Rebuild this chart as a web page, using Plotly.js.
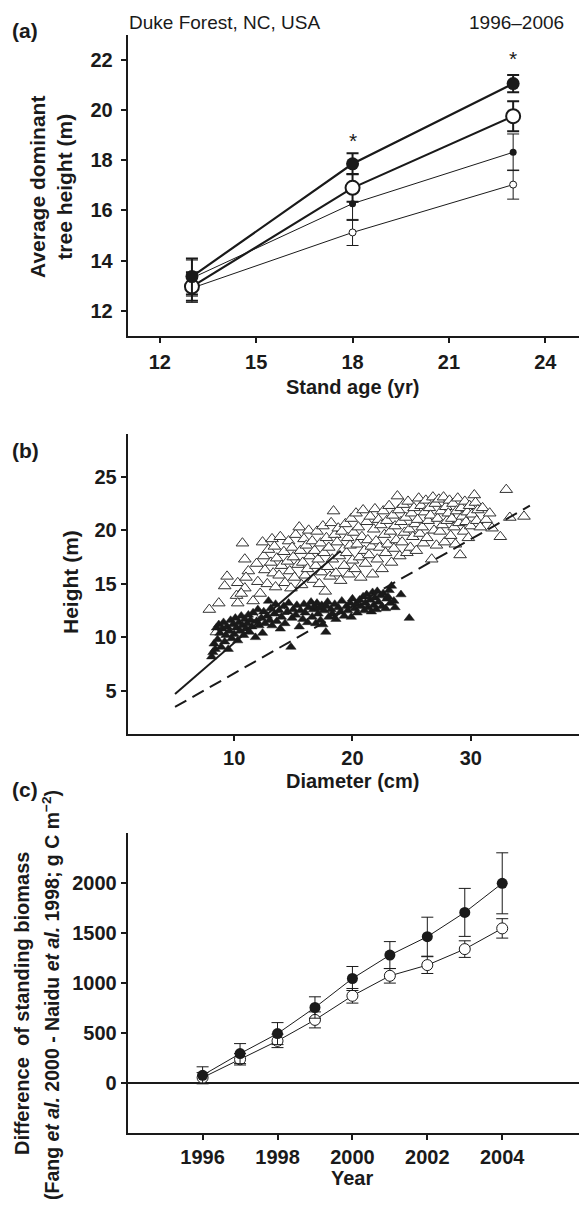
<!DOCTYPE html>
<html>
<head>
<meta charset="utf-8">
<script src="https://cdn.plot.ly/plotly-3.0.1.min.js"></script>
<style>html,body{margin:0;padding:0;background:#fff;}#plot{width:579px;height:1207px;}</style>
</head>
<body>
<div id="plot"></div>
<script>
// ---------- Panel (a): stand age vs average dominant tree height ----------
const ageA = [13, 18, 23];
const bigFilled = [13.36, 17.86, 21.06];
const bigFilledErr = [0.72, 0.42, 0.34];
const bigOpen = [12.96, 16.90, 19.76];
const bigOpenErr = [0.57, 0.55, 0.60];
const smallFilled = [13.30, 16.27, 18.32];
const smallFilledErr = [0.72, 0.67, 0.73];
const smallOpen = [12.90, 15.12, 17.03];
const smallOpenErr = [0.57, 0.52, 0.58];
const starAge = [18, 23];
const starHeight = [18.78, 22.05];
const ageTicks = [12, 15, 18, 21, 24];
const heightTicksA = [12, 14, 16, 18, 20, 22];

// ---------- Panel (b): diameter vs height ----------
const openDiam = [7.9,8.7,9.2,9.4,10.3,10.2,10.3,10.7,10.9,10.9,11.2,11.0,10.6,8.5,11.7,11.6,11.9,12.0,12.2,12.4,12.5,12.6,12.8,12.9,13.1,13.2,13.3,13.4,13.5,13.6,13.8,13.9,14.0,14.1,14.2,14.3,14.5,14.6,14.7,14.8,14.9,15.0,15.1,15.2,15.4,15.5,15.6,15.7,15.8,15.9,16.0,16.1,16.2,16.3,16.4,16.6,16.7,16.8,16.9,17.0,17.1,17.2,17.3,17.4,17.5,17.6,17.7,17.8,17.9,18.0,18.1,18.2,18.4,18.3,18.5,18.6,18.7,18.8,18.9,19.0,19.1,19.2,19.3,19.4,19.5,19.6,19.7,19.8,19.9,20.0,20.1,20.2,20.3,20.4,20.5,20.6,20.7,20.8,20.9,21.0,21.1,21.2,21.3,21.4,21.5,21.6,21.7,21.8,21.9,22.0,22.1,22.2,22.3,22.4,22.5,22.6,22.7,22.8,22.9,23.0,23.1,23.2,23.3,23.4,23.5,23.6,23.8,23.7,23.9,24.0,24.1,24.2,24.3,24.4,24.5,24.6,24.7,24.8,24.9,25.0,25.1,25.2,25.3,25.4,25.5,25.6,25.7,25.8,25.9,26.0,26.1,26.2,26.3,26.4,26.5,26.7,26.6,26.8,26.9,27.0,27.1,27.2,27.3,27.4,27.5,27.6,27.7,27.8,27.9,28.0,28.1,28.2,28.3,28.4,28.5,28.6,28.7,28.8,28.9,29.0,29.1,29.2,29.3,29.4,29.5,29.6,29.7,29.8,29.9,30.0,30.1,30.3,30.4,30.5,30.6,30.8,31.0,31.3,31.6,31.8,32.5,33.0,33.3,34.5];
const openHeight = [12.6,13.2,14.8,15.7,15.1,13.9,13.2,18.8,17.3,14.6,16.2,15.6,14.1,10.5,11.9,13.4,16.9,15.2,14.1,18.9,17.6,16.3,15.0,18.2,17.0,19.2,16.0,18.5,14.7,17.4,15.8,19.4,16.7,12.4,18.0,15.1,17.1,19.0,16.2,14.6,18.4,17.5,15.6,19.6,16.8,20.3,18.1,14.9,17.0,19.2,15.8,18.6,16.4,20.0,17.6,19.0,15.4,18.1,16.7,19.9,17.3,15.0,18.8,16.1,20.4,17.9,14.3,19.3,16.6,18.4,15.7,20.7,21.8,17.3,19.6,16.0,18.9,20.2,17.6,15.3,19.9,18.2,16.7,20.6,17.9,19.3,15.9,18.6,21.1,17.2,19.8,16.4,21.6,18.7,20.3,17.5,15.6,19.4,21.9,18.1,16.9,20.8,19.1,17.7,21.3,18.5,15.9,20.1,22.0,19.0,17.3,21.0,18.4,20.5,16.4,21.8,19.6,17.9,20.9,18.7,22.3,19.9,17.0,21.4,18.3,20.4,23.2,19.1,21.9,17.6,20.8,18.9,22.4,19.8,21.2,17.9,22.7,20.1,18.4,21.6,19.4,22.1,20.6,18.1,21.0,23.0,19.7,22.3,20.3,18.8,21.7,22.8,19.3,20.9,22.1,17.3,21.4,23.1,20.0,22.5,18.6,21.1,22.9,19.9,21.8,20.5,23.1,18.9,22.2,20.9,21.6,22.8,19.5,21.1,22.5,20.3,18.7,21.8,23.0,20.7,17.7,22.1,21.3,19.9,22.7,20.8,21.7,19.3,22.3,20.4,21.5,23.3,22.6,20.9,21.9,20.3,22.1,21.0,21.6,20.2,19.4,23.8,21.2,21.3];
const filledDiam = [8.1,8.2,8.3,8.4,8.5,8.6,8.7,8.8,8.9,9.0,9.1,9.2,9.3,9.4,9.5,9.6,9.7,9.8,9.9,10.0,10.1,10.2,10.3,10.4,10.5,10.6,10.7,10.8,10.9,11.0,11.1,11.2,11.3,11.4,11.5,11.6,11.8,11.9,12.0,12.1,12.3,12.4,12.5,12.6,12.8,12.9,13.0,13.1,13.2,13.4,13.5,13.6,13.8,13.9,14.0,14.2,14.3,14.5,14.6,14.8,14.9,15.0,15.2,15.3,15.5,15.6,15.8,15.9,16.0,16.2,16.3,16.5,16.6,16.7,16.8,16.9,17.0,17.1,17.2,17.3,17.4,17.5,17.6,17.75,17.8,17.9,18.0,18.2,18.3,18.5,18.6,18.8,19.0,19.1,19.3,19.5,19.6,19.8,19.9,20.0,20.2,20.3,20.4,20.6,20.7,20.9,21.0,21.1,21.2,21.3,21.5,21.6,21.7,21.8,21.9,22.0,22.1,22.2,22.4,22.5,22.6,22.8,22.9,23.0,23.1,23.2,23.3,23.5,23.6,24.1,24.8];
const filledHeight = [8.2,8.6,9.4,8.9,10.9,9.8,11.2,10.4,9.1,10.8,11.4,9.6,10.2,11.0,8.9,10.6,11.6,9.9,11.2,10.3,11.8,10.9,9.7,11.4,10.6,12.0,11.1,10.2,11.7,10.8,11.3,12.1,10.5,11.6,11.0,12.3,10.0,11.5,12.6,11.1,11.8,10.4,12.4,11.3,12.0,13.4,11.6,12.7,11.1,12.2,13.1,11.5,12.5,10.8,11.9,12.9,11.3,12.4,13.2,9.1,11.8,12.6,12.1,13.0,11.0,12.5,11.7,13.1,12.3,11.4,12.8,13.3,11.9,12.6,12.9,11.3,13.2,12.2,12.7,11.6,13.0,11.2,12.5,10.5,12.9,13.3,11.9,12.6,12.2,13.1,11.7,12.8,12.4,13.4,12.0,12.9,12.5,13.2,11.9,13.6,12.7,13.1,12.3,13.5,12.9,13.8,12.5,13.2,14.0,12.8,13.5,12.4,14.2,13.0,13.7,12.6,14.3,13.3,13.9,12.9,14.1,12.7,13.6,13.8,14.4,13.2,14.8,13.4,12.8,14.0,11.8];
const solidFitDiam = [5, 12, 19];
const solidFitHeight = [4.7, 11.4, 18.1];
const dashFitDiam = [5, 20, 35];
const dashFitHeight = [3.5, 12.9, 22.3];
const diamTicks = [10, 20, 30];
const heightTicksB = [5, 10, 15, 20, 25];

// ---------- Panel (c): year vs difference of standing biomass ----------
const years = [1996, 1997, 1998, 1999, 2000, 2001, 2002, 2003, 2004];
const biomassFilled = [80, 297, 497, 758, 1048, 1282, 1466, 1709, 2000];
const biomassFilledErr = [85, 100, 110, 107, 120, 135, 195, 240, 305];
const biomassOpen = [57, 240, 424, 634, 875, 1075, 1182, 1342, 1549];
const biomassOpenErr = [50, 57, 67, 80, 73, 73, 84, 83, 97];
const yearTicks = [1996, 1998, 2000, 2002, 2004];
const biomassTicks = [0, 500, 1000, 1500, 2000];

// ---------- layout helpers ----------
const W = 579, H = 1207;
const px = v => v / W;
const py = v => 1 - v / H;
const FONT = 'Liberation Sans, Arial, Helvetica, sans-serif';
const BLACK = '#1a1a1a';

function errBar(arr, thick, w) {
  return {type: 'data', array: arr, visible: true, color: BLACK, thickness: thick, width: w};
}

const traces = [
  {x: ageA, y: smallOpen, xaxis: 'x', yaxis: 'y', mode: 'lines+markers', type: 'scatter',
   line: {color: BLACK, width: 1}, marker: {symbol: 'circle', size: 7, color: '#fff', line: {color: BLACK, width: 1}},
   error_y: errBar(smallOpenErr, 1, 6)},
  {x: ageA, y: smallFilled, xaxis: 'x', yaxis: 'y', mode: 'lines+markers', type: 'scatter',
   line: {color: BLACK, width: 1}, marker: {symbol: 'circle', size: 7, color: BLACK},
   error_y: errBar(smallFilledErr, 1, 6)},
  {x: ageA, y: bigOpen, xaxis: 'x', yaxis: 'y', mode: 'lines+markers', type: 'scatter',
   line: {color: BLACK, width: 2.2}, marker: {symbol: 'circle', size: 14, color: '#fff', line: {color: BLACK, width: 2}},
   error_y: errBar(bigOpenErr, 2, 6)},
  {x: ageA, y: bigFilled, xaxis: 'x', yaxis: 'y', mode: 'lines+markers', type: 'scatter',
   line: {color: BLACK, width: 2.2}, marker: {symbol: 'circle', size: 13, color: BLACK},
   error_y: errBar(bigFilledErr, 2, 6)},
  {x: openDiam, y: openHeight, xaxis: 'x2', yaxis: 'y2', mode: 'markers', type: 'scatter',
   marker: {symbol: 'triangle-up', size: 11, color: '#fff', line: {color: '#333', width: 1}}},
  {x: filledDiam, y: filledHeight, xaxis: 'x2', yaxis: 'y2', mode: 'markers', type: 'scatter',
   marker: {symbol: 'triangle-up', size: 9, color: BLACK, line: {color: BLACK, width: 0.5}}},
  {x: solidFitDiam, y: solidFitHeight, xaxis: 'x2', yaxis: 'y2', mode: 'lines', type: 'scatter',
   line: {color: BLACK, width: 2}},
  {x: dashFitDiam, y: dashFitHeight, xaxis: 'x2', yaxis: 'y2', mode: 'lines', type: 'scatter',
   line: {color: BLACK, width: 2, dash: '13px,7px'}},
  {x: years, y: biomassOpen, xaxis: 'x3', yaxis: 'y3', mode: 'lines+markers', type: 'scatter',
   line: {color: BLACK, width: 1}, marker: {symbol: 'circle', size: 11, color: '#fff', line: {color: BLACK, width: 1}},
   error_y: errBar(biomassOpenErr, 1, 6)},
  {x: years, y: biomassFilled, xaxis: 'x3', yaxis: 'y3', mode: 'lines+markers', type: 'scatter',
   line: {color: BLACK, width: 1}, marker: {symbol: 'circle', size: 11, color: BLACK},
   error_y: errBar(biomassFilledErr, 1, 6)}
];

function xax(range, ticks, dom, standoff) {
  return {domain: [px(127.7), 1], range: range, tickmode: 'array', tickvals: ticks,
    showline: true, linewidth: 2, linecolor: BLACK, ticks: 'outside', ticklen: 5, tickwidth: 2, tickcolor: BLACK,
    showgrid: false, zeroline: false, fixedrange: true, ticklabelstandoff: standoff,
    tickfont: {family: FONT, size: 20, color: BLACK, weight: 'bold'}, anchor: dom};
}
function yax(range, ticks, top, bottom, anchor, standoff) {
  return {domain: [py(bottom), py(top)], range: range, tickmode: 'array', tickvals: ticks,
    showline: true, linewidth: 2, linecolor: BLACK, ticks: 'outside', ticklen: 5, tickwidth: 2, tickcolor: BLACK,
    showgrid: false, zeroline: false, fixedrange: true, ticklabelstandoff: standoff,
    tickfont: {family: FONT, size: 20, color: BLACK, weight: 'bold'}, anchor: anchor};
}

const yax3 = yax([-500, 2500], biomassTicks, 833.3, 1133.3, 'x3', 0);
yax3.zeroline = true; yax3.zerolinecolor = BLACK; yax3.zerolinewidth = 2;

function ann(text, x, y, opts) {
  return Object.assign({text: text, xref: 'paper', yref: 'paper', x: px(x), y: py(y),
    xanchor: 'center', yanchor: 'middle', showarrow: false,
    font: {family: FONT, size: 21, color: BLACK, weight: 'bold'}}, opts || {});
}
const bold20 = {family: FONT, size: 20, color: BLACK, weight: 'bold'};

const annotations = [
  ann('(a)', 25, 31),
  ann('Duke Forest, NC, USA', 127, 22, {xanchor: 'left', font: {family: FONT, size: 19, color: BLACK, weight: 'normal'}}),
  ann('1996–2006', 566, 22, {xanchor: 'right', font: {family: FONT, size: 19, color: BLACK, weight: 'normal'}}),
  ann('Average dominant<br>tree height (m)', 51, 187, {textangle: -90}),
  ann('Stand age (yr)', 352, 387, {font: bold20}),
  ann('(b)', 25, 450),
  ann('Height (m)', 70, 582, {textangle: -90}),
  ann('Diameter (cm)', 352, 781, {font: bold20}),
  ann('(c)', 25, 789),
  ann('Difference  of standing biomass', 22, 1004, {textangle: -90, font: bold20}),
  ann('(Fang <i>et al.</i> 2000 - Naidu <i>et al.</i> 1998; g C m<sup>−2</sup>)', 51, 995, {textangle: -90, font: {family: FONT, size: 19.5, color: BLACK, weight: 'bold'}}),
  ann('Year', 352, 1178, {font: bold20})
];
starAge.forEach((a, i) => {
  annotations.push({text: '*', xref: 'x', yref: 'y', x: a, y: starHeight[i], showarrow: false,
    xanchor: 'center', yanchor: 'middle', font: {family: FONT, size: 21, color: BLACK}});
});

const layout = {
  width: W, height: H, margin: {l: 0, r: 0, t: 0, b: 0}, showlegend: false,
  paper_bgcolor: '#fff', plot_bgcolor: '#fff',
  xaxis: xax([11, 25.05], ageTicks, 'y', 2),
  yaxis: yax([11, 23], heightTicksA, 35, 335.7, 'x', 4),
  xaxis2: xax([1, 39.15], diamTicks, 'y2', 0),
  yaxis2: yax([1, 29], heightTicksB, 434, 733.7, 'x2', 0),
  xaxis3: xax([1994, 2006.05], yearTicks, 'y3', 0),
  yaxis3: yax3,
  annotations: annotations
};

Plotly.newPlot('plot', traces, layout, {displayModeBar: false, staticPlot: true});
</script>
</body>
</html>
